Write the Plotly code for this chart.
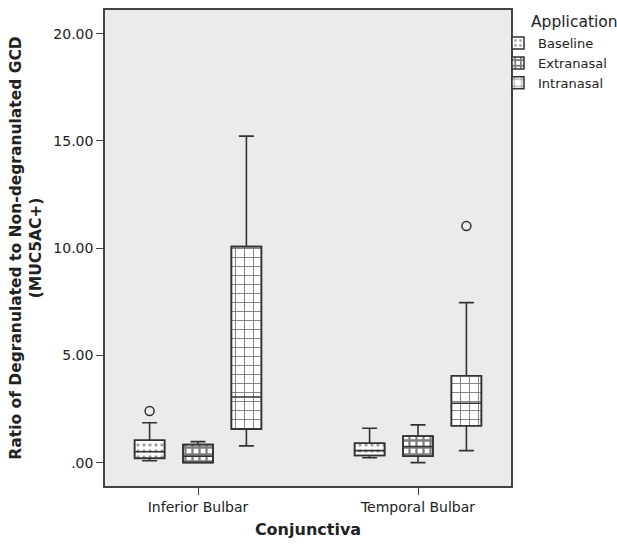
import plotly.graph_objects as go

categories = ["Inferior Bulbar", "Temporal Bulbar"]
groups = ["Baseline", "Extranasal", "Intranasal"]

baseline_lower = [0.09, 0.23]
baseline_q1 = [0.20, 0.33]
baseline_median = [0.51, 0.56]
baseline_q3 = [1.04, 0.90]
baseline_upper = [1.86, 1.60]
baseline_outliers = [2.41, None]

extranasal_lower = [0.00, 0.00]
extranasal_q1 = [0.00, 0.30]
extranasal_median = [0.30, 0.75]
extranasal_q3 = [0.84, 1.24]
extranasal_upper = [0.98, 1.76]
extranasal_outliers = [None, None]

intranasal_lower = [0.78, 0.56]
intranasal_q1 = [1.56, 1.72]
intranasal_median = [3.06, 2.77]
intranasal_q3 = [10.07, 4.05]
intranasal_upper = [15.22, 7.46]
intranasal_outliers = [None, 11.03]

y_tickvals = [0, 5, 10, 15, 20]
y_ticktext = [".00", "5.00", "10.00", "15.00", "20.00"]

FONT = "DejaVu Sans"
LINE = "#333333"

series = [
    ("Baseline", baseline_lower, baseline_q1, baseline_median, baseline_q3, baseline_upper, baseline_outliers,
     dict(shape=".", bgcolor="white", fgcolor="#444444", size=6, solidity=0.25)),
    ("Extranasal", extranasal_lower, extranasal_q1, extranasal_median, extranasal_q3, extranasal_upper, extranasal_outliers,
     dict(shape="+", bgcolor="white", fgcolor="black", size=7, solidity=0.55)),
    ("Intranasal", intranasal_lower, intranasal_q1, intranasal_median, intranasal_q3, intranasal_upper, intranasal_outliers,
     dict(shape="+", bgcolor="white", fgcolor="black", size=9, solidity=0.2)),
]

fig = go.Figure()

# patterned box bodies (bars from q1 to q3)
for name, lo, q1, med, q3, up, outl, pat in series:
    fig.add_trace(go.Bar(
        x=categories, y=[b - a for a, b in zip(q1, q3)], base=q1, name=name,
        offsetgroup=name,
        marker=dict(color="white", pattern=pat, line=dict(color=LINE, width=1.5)),
        showlegend=True, hoverinfo="skip",
    ))

# whiskers and medians
for name, lo, q1, med, q3, up, outl, pat in series:
    fig.add_trace(go.Box(
        x=categories, q1=q1, median=med, q3=q3, lowerfence=lo, upperfence=up,
        orientation="v", offsetgroup=name, boxpoints=False,
        name=name, showlegend=False, fillcolor="rgba(0,0,0,0)",
        line=dict(color=LINE, width=1.6), whiskerwidth=0.5,
    ))

# outliers
for name, lo, q1, med, q3, up, outl, pat in series:
    fig.add_trace(go.Scatter(
        x=categories, y=outl, mode="markers", offsetgroup=name,
        name=name, showlegend=False,
        marker=dict(symbol="circle-open", size=9, color=LINE, line=dict(width=1.5)),
    ))

fig.add_annotation(
    text="Application", xref="paper", yref="paper", x=1.045, y=0.998,
    xanchor="left", yanchor="top", showarrow=False,
    font=dict(size=15.5, color="#222222", family=FONT),
)

fig.update_layout(
    width=617, height=544, autosize=False,
    margin=dict(l=105, r=106, t=10, b=58, autoexpand=False),
    paper_bgcolor="white", plot_bgcolor="#ebebeb",
    barmode="group", bargap=0.34, bargroupgap=0.38,
    boxmode="group", boxgap=0.34, boxgroupgap=0.38,
    scattermode="group", scattergap=0.34,
    font=dict(family=FONT, color="#222222", size=12),
    legend=dict(
        x=0.968, xanchor="left", y=0.962, yanchor="top",
        font=dict(size=13), itemwidth=30, tracegroupgap=0,
        bgcolor="rgba(0,0,0,0)",
    ),
    xaxis=dict(
        title=dict(text="<b>Conjunctiva</b>", font=dict(size=16), standoff=10),
        range=[-0.4227, 1.4227], automargin=False,
        showline=True, linecolor="#444444", linewidth=1.5, mirror=True,
        ticks="outside", ticklen=7, tickcolor="#444444",
        tickfont=dict(size=14), showgrid=False,
    ),
    yaxis=dict(
        title=dict(text="<b>Ratio of Degranulated to Non-degranulated GCD<br>(MUC5AC+)</b>",
                   font=dict(size=15.5), standoff=8),
        range=[-1.09, 21.1], tickvals=y_tickvals, ticktext=y_ticktext, automargin=False,
        showline=True, linecolor="#444444", linewidth=1.5, mirror=True,
        ticks="outside", ticklen=7, tickcolor="#444444",
        tickfont=dict(size=14), showgrid=False, zeroline=False,
    ),
)

fig.write_html(
    "out.html",
    config={"displayModeBar": False, "responsive": False},
    post_script="document.body.style.margin='0px';document.body.style.overflow='hidden';"
                "Plotly.relayout(document.getElementById('{plot_id}'), {width: 617, height: 544});",
)
